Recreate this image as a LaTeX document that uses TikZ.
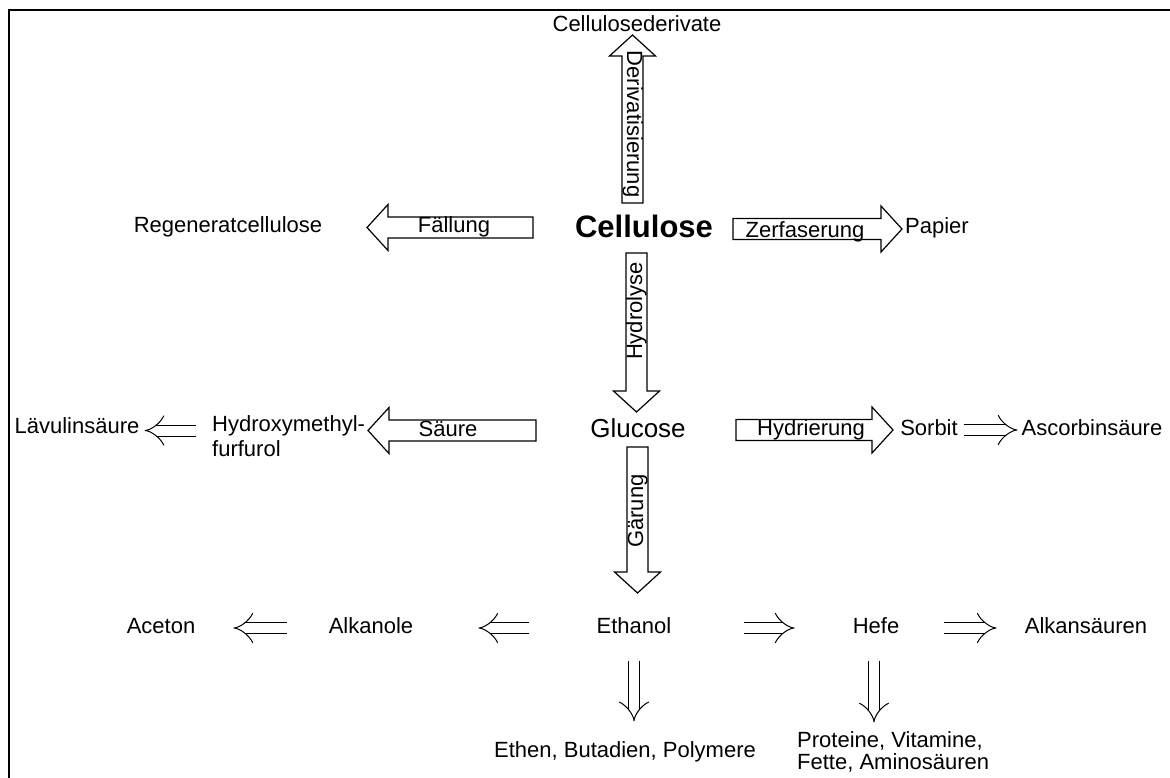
\documentclass[tikz,border=0pt]{standalone}
\usepackage{fontspec}
\setmainfont{Liberation Sans}
\usetikzlibrary{arrows.meta,calc}

% hollow block arrow between two named points
\newcommand{\fatarrow}[2]{%
  \coordinate (fa-b) at ($(#2)!21pt!(#1)$);
  \draw[fat] ($(#1)!10.5pt!90:(#2)$) -- ($(fa-b)!10.5pt!90:(#2)$)
    -- ($(fa-b)!23pt!90:(#2)$) -- (#2) -- ($(fa-b)!23pt!-90:(#2)$)
    -- ($(fa-b)!10.5pt!-90:(#2)$) -- ($(#1)!10.5pt!-90:(#2)$) -- cycle;}

\begin{document}
\begin{tikzpicture}[x=1pt, y=-1pt,
  txt/.style={font=\fontsize{22}{25}\selectfont, inner sep=0pt, text height=16pt, text depth=5pt},
  twoline/.style={font=\fontsize{22}{25}\selectfont, inner sep=0pt, align=left, anchor=west},
  fat/.style={line width=1.2pt, line join=miter},
  yields/.style={double, double distance=10pt, line width=1pt, -{Implies}}]
  \useasboundingbox (0,0) rectangle (1170,778);
  \draw[line width=2.8pt] (9,778) -- (9,10) -- (1170,10);

  % products
  \node[txt] (deriv) at (637,26.5) {Cellulosederivate};
  \node[txt] (regen) at (228,227.5) {Regeneratcellulose};
  \node[inner sep=0pt, font=\fontsize{31}{34}\selectfont\bfseries, text height=22pt, text depth=6pt] (cellulose) at (644,229) {Cellulose};
  \node[txt] (papier) at (937,228.5) {Papier};
  \node[txt] (laevulin) at (77,428) {Lävulinsäure};
  \node[twoline] (hmf) at (212,436.5) {Hydroxymethyl-\\furfurol};
  \node[inner sep=0pt, font=\fontsize{26}{30}\selectfont, text height=19pt, text depth=6pt] (glucose) at (638,431) {Glucose};
  \node[txt] (sorbit) at (929,430) {Sorbit};
  \node[txt] (ascorbin) at (1092,430) {Ascorbinsäure};
  \node[txt] (aceton) at (161,628) {Aceton};
  \node[txt] (alkanole) at (371,628) {Alkanole};
  \node[txt] (ethanol) at (634,628) {Ethanol};
  \node[txt] (hefe) at (876,628) {Hefe};
  \node[txt] (alkansaeuren) at (1086,628) {Alkansäuren};
  \node[txt] (ethen) at (625,752) {Ethen, Butadien, Polymere};
  \node[twoline] (proteine) at (797,752) {Proteine, Vitamine,\\[-3pt]Fette, Aminosäuren};

  % block arrows
  \coordinate (derivS) at (632.5,203);  \coordinate (derivT) at (632.5,35);
  \coordinate (faellS) at (533,227.5);  \coordinate (faellT) at (367,227.5);
  \coordinate (zerfS) at (733,229);     \coordinate (zerfT) at (902,229);
  \coordinate (hydrS) at (636.5,253);   \coordinate (hydrT) at (636.5,412);
  \coordinate (saeuS) at (536,430.5);   \coordinate (saeuT) at (368,430.5);
  \coordinate (hydrierS) at (736,430);  \coordinate (hydrierT) at (893,430);
  \coordinate (gaerS) at (637.5,447);   \coordinate (gaerT) at (637.5,593);
  \fatarrow{derivS}{derivT}
  \fatarrow{faellS}{faellT}
  \fatarrow{zerfS}{zerfT}
  \fatarrow{hydrS}{hydrT}
  \fatarrow{saeuS}{saeuT}
  \fatarrow{hydrierS}{hydrierT}
  \fatarrow{gaerS}{gaerT}
  \node[txt, rotate=-90] (lderiv) at (632.5,124) {Derivatisierung};
  \node[txt] (lfaell) at (454,227.5) {Fällung};
  \node[txt] (lzerf) at (805,231.5) {Zerfaserung};
  \node[txt, rotate=90] (lhydr) at (636.5,311) {Hydrolyse};
  \node[txt] (lsaeu) at (448,431) {Säure};
  \node[txt] (lhydrier) at (811,430) {Hydrierung};
  \node[txt, rotate=90] (lgaer) at (637.5,511) {Gärung};

  % double arrows
  \draw[yields, shorten <=16pt, shorten >=5pt] (hmf.west |- saeuT) -- (laevulin.east |- saeuT);
  \draw[yields, shorten <=6pt, shorten >=4pt] (sorbit) -- (ascorbin);
  \draw[yields, shorten <=42pt, shorten >=38pt] (alkanole) -- (aceton);
  \draw[yields, shorten <=67pt, shorten >=65pt] (ethanol) -- (alkanole);
  \draw[yields, shorten <=72pt, shorten >=58pt] (ethanol) -- (hefe);
  \draw[yields, shorten <=45pt, shorten >=28pt] (hefe) -- (alkansaeuren);
  \draw[yields, shorten <=22pt, shorten >=20pt] (ethanol) -- (ethanol |- ethen.north);
  \draw[yields, shorten <=22pt, shorten >=9pt] (hefe.south -| 874,0) -- (874,0 |- proteine.north);
\end{tikzpicture}
\end{document}
